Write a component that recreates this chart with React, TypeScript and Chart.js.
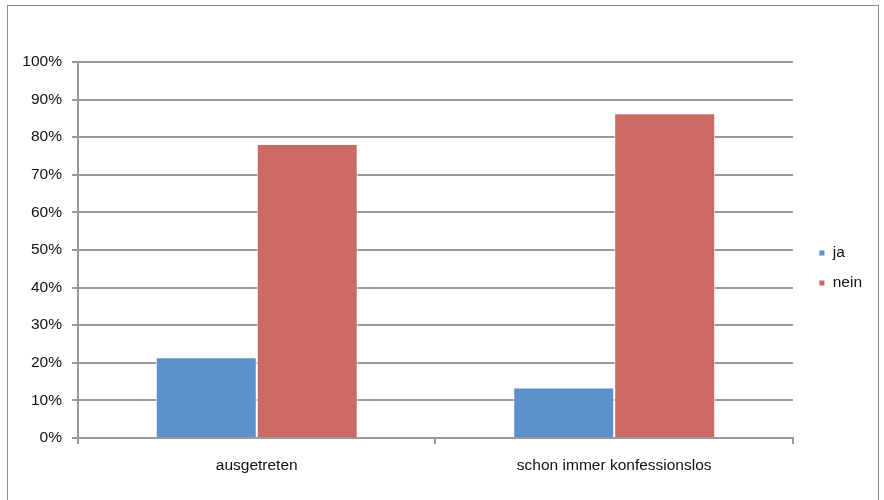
import React, { useEffect, useRef } from "react";
import { Chart, registerables } from "chart.js";

Chart.register(...registerables);

const categories = ["ausgetreten", "schon immer konfessionslos"];
const seriesNames = ["ja", "nein"];
const jaValues = [21.5, 13.4];
const neinValues = [78.2, 86.4];
const yTicks = [0, 10, 20, 30, 40, 50, 60, 70, 80, 90, 100];

const BLUE = "#5b90cc";
const RED = "#cc6964";
const GRID = "#999999";
const TEXT = "#111111";
const FONT = { family: "'Liberation Sans', Arial, sans-serif", size: 15.5 };

export default function App() {
  const ref = useRef<HTMLCanvasElement | null>(null);

  useEffect(() => {
    if (!ref.current) return;
    const legendShift = {
      id: "legendShift",
      afterLayout(chart: any) {
        const lg = chart.legend;
        if (lg) {
          lg.left += 11.5;
          lg.right += 11.5;
        }
      },
    };
    const chart = new Chart(ref.current, {
      type: "bar",
      data: {
        labels: categories,
        datasets: [
          {
            label: seriesNames[0],
            data: jaValues,
            backgroundColor: BLUE,
            borderColor: "rgba(255,255,255,0.9)",
            borderWidth: 1,
            categoryPercentage: 0.565,
            barPercentage: 1,
          },
          {
            label: seriesNames[1],
            data: neinValues,
            backgroundColor: RED,
            borderColor: "rgba(255,255,255,0.9)",
            borderWidth: 1,
            categoryPercentage: 0.565,
            barPercentage: 1,
          },
        ],
      },
      options: {
        responsive: false,
        animation: false,
        maintainAspectRatio: false,
        layout: { padding: { left: 0, top: 62, right: 23.5, bottom: 26 } },
        plugins: {
          tooltip: { enabled: false },
          legend: {
            position: "right",
            align: "center",
            labels: {
              boxWidth: 6,
              boxHeight: 6,
              padding: 14.5,
              color: TEXT,
              font: FONT,
            },
          },
        },
        scales: {
          x: {
            grid: {
              display: true,
              drawOnChartArea: false,
              drawTicks: true,
              tickLength: 6,
              color: GRID,
              lineWidth: 2,
              offset: true,
            },
            border: { display: true, color: GRID, width: 2 },
            ticks: { color: TEXT, font: FONT, padding: 12 },
            afterFit(scale: any) {
              scale.height = 36;
            },
          },
          y: {
            min: 0,
            max: 100,
            afterBuildTicks(scale: any) {
              scale.ticks = yTicks.map((v) => ({ value: v }));
            },
            grid: {
              color: GRID,
              lineWidth: 2,
              tickLength: 6,
              drawTicks: true,
            },
            border: { display: true, color: GRID, width: 2 },
            ticks: {
              color: TEXT,
              font: FONT,
              padding: 10,
              callback: (v: any) => `${v}%`,
            },
            afterFit(scale: any) {
              scale.width = 78;
            },
          },
        },
      },
      plugins: [legendShift],
    });
    return () => chart.destroy();
  }, []);

  return (
    <div style={{ position: "fixed", left: 0, top: 0, width: 884, height: 500, background: "#fff", overflow: "hidden" }}>
      <div
        style={{
          position: "absolute",
          left: 7,
          top: 5,
          width: 872,
          height: 520,
          border: "1px solid #8c8c8c",
          boxSizing: "border-box",
        }}
      />
      <canvas ref={ref} width={884} height={500} style={{ position: "absolute", left: 0, top: 0 }} />
    </div>
  );
}
